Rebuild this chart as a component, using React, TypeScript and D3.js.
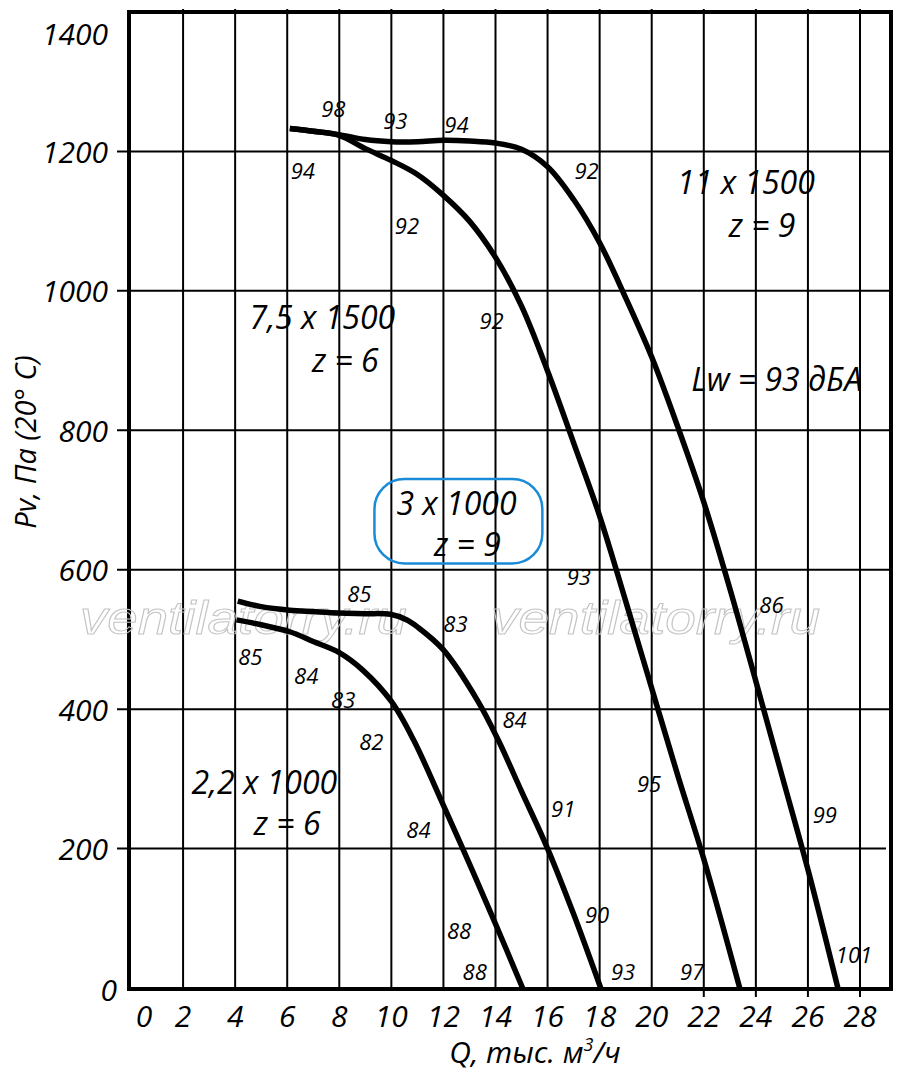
import * as d3 from "d3";

// Q (тыс. м3/ч), Pv (Па)
const curve22x1000: [number, number][] = [
    [4.05, 528], [5, 521], [6.1, 511], [7, 497], [8, 481], [8.9, 456], [10, 411],
    [10.85, 356], [12, 262], [13, 178], [14, 92], [15.04, 0],
];
const curve3x1000: [number, number][] = [
    [4.1, 555], [5, 547], [6.1, 542], [7, 540], [8, 538], [9, 537], [9.96, 536],
    [10.6, 528], [11, 518], [12, 485], [13.3, 413], [14.1, 356], [15, 282],
    [16, 200], [17, 106], [18.04, 0],
];
const curve75x1500: [number, number][] = [
    [6.1, 1233], [7, 1229], [8, 1223], [9, 1204], [10, 1187], [11, 1167], [12, 1137],
    [13, 1100], [14, 1048], [15, 978], [16, 885], [17, 782], [18, 677], [19, 555],
    [20, 430], [21, 305], [22, 185], [23.38, 0],
];
const curve11x1500: [number, number][] = [
    [6.1, 1233], [7, 1229], [8, 1224], [9, 1217], [10, 1214], [11, 1214], [12, 1216],
    [13, 1215], [14, 1212], [15, 1203], [16, 1178], [17, 1131], [18, 1069], [19, 990],
    [20, 905], [21, 805], [22, 697], [23, 573], [24, 440], [25, 305], [26, 170], [27.15, 0],
];
const curves = [curve22x1000, curve3x1000, curve75x1500, curve11x1500];

// noise level marks along the curves: [text, Q, Pv]
const noiseLabels: [string, number, number][] = [
    ["98", 7.77, 1262], ["93", 10.15, 1245], ["94", 12.5, 1240], ["94", 6.6, 1174],
    ["92", 10.6, 1095], ["92", 17.5, 1174], ["92", 13.85, 958], ["93", 17.2, 591],
    ["86", 24.6, 551], ["85", 8.77, 567], ["83", 12.46, 524], ["85", 4.58, 476],
    ["84", 6.73, 449], ["83", 8.15, 415], ["82", 9.23, 354], ["84", 14.73, 386],
    ["84", 11.04, 228], ["91", 16.6, 258], ["95", 19.9, 294], ["99", 26.65, 250],
    ["88", 12.6, 83], ["90", 17.9, 106], ["88", 13.2, 24], ["93", 18.9, 24],
    ["97", 21.55, 24], ["101", 27.77, 49],
];

// fan model captions: [text, Q, Pv]
const modelLabels: [string, number, number][] = [
    ["11 x 1500", 23.62, 1157], ["z = 9", 24.24, 1095],
    ["7,5 x 1500", 7.35, 963], ["z = 6", 8.23, 901],
    ["3 x 1000", 12.5, 696], ["z = 9", 12.92, 638],
    ["2,2 x 1000", 5.12, 296], ["z = 6", 6.0, 237],
    ["Lw = 93 дБА", 24.8, 875],
];
const highlightBox = { q0: 9.35, q1: 15.8, p0: 609, p1: 730 };

const xTicks = d3.range(0, 29, 2);
const yTicks = d3.range(0, 1401, 200);
const xOuterTicks = [22, 24, 26, 28];

const FONT = "'Open Sans', 'DejaVu Sans', sans-serif";

export default function App() {
    const width = 900;
    const height = 1082;
    const x = d3.scaleLinear().domain([0, 28]).range([131, 860]);
    const y = d3.scaleLinear().domain([0, 1400]).range([988, 12]);
    const line = d3
        .line<[number, number]>()
        .x((d) => x(d[0]))
        .y((d) => y(d[1]))
        .curve(d3.curveCatmullRom.alpha(0.5));

    const left = x(0) - 2;
    const right = 891;
    const top = y(1400);
    const bottom = y(0) + 1;

    // label offsets where the original moved a tick label off its grid line
    const yLabelY = (t: number) => (t === 1400 ? y(t) + 21 : t === 0 ? y(t) + 1 : y(t));
    const yLabelX = (t: number) => (t === 0 ? 117 : 108);

    return (
        <svg width={width} height={height} style={{ position: "absolute", left: 0, top: 0, background: "#fff" }}>
            {/* grid */}
            <g stroke="#000" strokeWidth={2}>
                {xTicks.filter((t) => t > 0).map((t) => (
                    <line key={"vx" + t} x1={x(t)} x2={x(t)} y1={top - 3} y2={bottom} />
                ))}
                {xOuterTicks.map((t) => (
                    <line key={"ox" + t} x1={x(t)} x2={x(t)} y1={bottom} y2={bottom + 8} />
                ))}
                {yTicks.filter((t) => t > 0 && t < 1400).map((t) => (
                    <line key={"hy" + t} x1={117} x2={t === 200 ? right - 5 : right} y1={y(t)} y2={y(t)} />
                ))}
            </g>
            {/* frame */}
            <g stroke="#000" strokeWidth={4} fill="none">
                <line x1={left} x2={left} y1={top - 2} y2={bottom + 2} />
                <line x1={left - 2} x2={right + 2} y1={top} y2={top} />
                <line x1={left - 2} x2={right + 2} y1={bottom} y2={bottom} />
                <line x1={right} x2={right} y1={top - 2} y2={bottom + 2} />
            </g>

            {/* watermark */}
            <g fontFamily="'Liberation Sans', Arial, sans-serif" fontStyle="italic" fontSize={46} fill="none" stroke="#c4c4c4" strokeWidth={1}>
                <text x={80} y={634} textLength={327} lengthAdjust="spacingAndGlyphs">ventilatorry.ru</text>
                <text x={491} y={634} textLength={329} lengthAdjust="spacingAndGlyphs">ventilatorry.ru</text>
            </g>

            {/* highlighted model */}
            <rect
                x={x(highlightBox.q0)}
                y={y(highlightBox.p1)}
                width={x(highlightBox.q1) - x(highlightBox.q0)}
                height={y(highlightBox.p0) - y(highlightBox.p1)}
                rx={30}
                ry={30}
                fill="none"
                stroke="#1a8bd6"
                strokeWidth={2.5}
            />

            {/* curves */}
            <g fill="none" stroke="#000" strokeWidth={5.5} strokeLinecap="butt" strokeLinejoin="round">
                {curves.map((c, i) => (
                    <path key={i} d={line(c) ?? ""} />
                ))}
            </g>

            {/* noise labels */}
            <g fontFamily={FONT} fontStyle="italic" fontSize={22} textAnchor="middle" dominantBaseline="central">
                {noiseLabels.map(([t, q, p], i) => (
                    <text key={i} x={x(q)} y={y(p)}>{t}</text>
                ))}
            </g>

            {/* model labels */}
            <g fontFamily={FONT} fontStyle="italic" fontSize={32} textAnchor="middle" dominantBaseline="central">
                {modelLabels.map(([t, q, p], i) => (
                    <text key={i} x={x(q)} y={y(p)}>{t}</text>
                ))}
            </g>

            {/* y axis */}
            <g fontFamily={FONT} fontStyle="italic" fontSize={30} textAnchor="end" dominantBaseline="central">
                {yTicks.map((t) => (
                    <text key={t} x={yLabelX(t)} y={yLabelY(t)}>{t}</text>
                ))}
            </g>
            <text
                transform={`translate(36, 442) rotate(-90)`}
                fontFamily={FONT}
                fontStyle="italic"
                fontSize={29}
                textAnchor="middle"
            >
                Pv, Па (20° C)
            </text>

            {/* x axis */}
            <g fontFamily={FONT} fontStyle="italic" fontSize={30} textAnchor="middle">
                {xTicks.map((t) => (
                    <text key={t} x={x(t) + (t === 0 ? 13 : 0)} y={1027}>{t}</text>
                ))}
            </g>
            <text x={535} y={1063} fontFamily={FONT} fontStyle="italic" fontSize={30} textAnchor="middle">
                Q, тыс. м<tspan fontSize={18} dy={-12}>3</tspan>
                <tspan dy={12}>/ч</tspan>
            </text>
        </svg>
    );
}
